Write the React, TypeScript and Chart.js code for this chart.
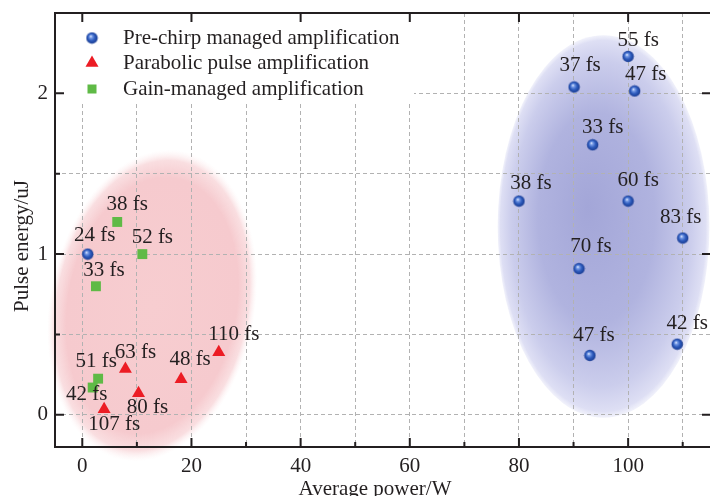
import React, { useEffect, useRef } from 'react';
import { Chart, registerables } from 'chart.js';

Chart.register(...registerables);

// ---------- data ----------
const seriesNames = [
  'Pre-chirp managed amplification',
  'Parabolic pulse amplification',
  'Gain-managed amplification',
];

const preChirpPower = [1, 100, 90.1, 101.2, 93.5, 80, 100, 110, 91, 93, 109];
const preChirpEnergy = [1.0, 2.23, 2.04, 2.015, 1.68, 1.33, 1.33, 1.1, 0.91, 0.37, 0.44];
const preChirpWidth = ['24 fs', '55 fs', '37 fs', '47 fs', '33 fs', '38 fs', '60 fs', '83 fs', '70 fs', '47 fs', '42 fs'];

const parabolicPower = [25, 7.9, 18.1, 10.3, 4.0];
const parabolicEnergy = [0.39, 0.285, 0.222, 0.135, 0.035];
const parabolicWidth = ['110 fs', '63 fs', '48 fs', '80 fs', '107 fs'];

const gainPower = [6.4, 11.0, 2.5, 2.9, 1.9];
const gainEnergy = [1.2, 1.0, 0.8, 0.225, 0.17];
const gainWidth = ['38 fs', '52 fs', '33 fs', '51 fs', '42 fs'];

// axis ranges / ticks
const xMin = -5;
const xMax = 115;
const xTickValues = [0, 10, 20, 30, 40, 50, 60, 70, 80, 90, 100, 110];
const xLabelStep = 20;
const yMin = -0.2;
const yMax = 2.5;
const yTickValues = [0, 0.5, 1, 1.5, 2];
const yLabelStep = 1;
const xTitle = 'Average power/W';
const yTitle = 'Pulse energy/uJ';

// shaded regions (data units): centre x, centre y, radius x, radius y
const pinkRegion = [12.8, 0.68, 18.8, 0.98];
const blueRegion = [95.5, 1.172, 19.4, 1.19];

// ---------- layout (label offsets in px, not data) ----------
const preChirpLabelOffsets = [
  [7, -19], [10, -16], [6, -21], [11, -16], [10, -17], [12, -18],
  [10, -21], [-2, -21], [12, -22], [4, -20], [10, -21],
];
const parabolicLabelOffsets = [[15, -18], [10, -17], [9, -20], [9, 14], [10, 15]];
const gainLabelOffsets = [[10, -17], [10, -17], [8, -16], [-2, -17], [-6, 7]];

const FONT = '"Liberation Serif", "Times New Roman", serif';
const TEXT = '#231f20';
const RED = '#ec1c24';
const GREEN = '#5fba46';

function makeBall(): HTMLCanvasElement {
  const c = document.createElement('canvas');
  c.width = 13;
  c.height = 13;
  const g = c.getContext('2d')!;
  const grad = g.createRadialGradient(5.2, 4.8, 0.2, 6.5, 6.5, 6.2);
  grad.addColorStop(0, '#f2f6ff');
  grad.addColorStop(0.18, '#7fa2ea');
  grad.addColorStop(0.55, '#2d5bbd');
  grad.addColorStop(1, '#17378a');
  g.fillStyle = grad;
  g.beginPath();
  g.arc(6.5, 6.5, 5.7, 0, Math.PI * 2);
  g.fill();
  return c;
}

const isMultiple = (v: number, step: number) => Math.abs(v / step - Math.round(v / step)) < 1e-6;

export default function App() {
  const ref = useRef<HTMLCanvasElement | null>(null);

  useEffect(() => {
    if (!ref.current) return;
    const ball = makeBall();

    const toPts = (xs: number[], ys: number[]) => xs.map((x, i) => ({ x, y: ys[i] }));

    const labelSets = [
      { texts: preChirpWidth, offs: preChirpLabelOffsets },
      { texts: parabolicWidth, offs: parabolicLabelOffsets },
      { texts: gainWidth, offs: gainLabelOffsets },
    ];

    const ellipsePlugin = {
      id: 'regions',
      beforeDraw(chart: any) {
        const { ctx, scales } = chart;
        const xs = scales.x;
        const ys = scales.y;
        const drawRegion = (r: number[], rot: number, stops: [number, string][], gx: number, gy: number) => {
          const px = xs.getPixelForValue(r[0]);
          const py = ys.getPixelForValue(r[1]);
          const rx = Math.abs(xs.getPixelForValue(r[0] + r[2]) - px);
          const ry = Math.abs(ys.getPixelForValue(r[1] + r[3]) - py);
          ctx.save();
          ctx.translate(px, py);
          ctx.rotate(rot);
          ctx.scale(rx, ry);
          const grad = ctx.createRadialGradient(gx, gy, 0, 0, 0, 1);
          stops.forEach(([o, c]) => grad.addColorStop(o, c));
          ctx.fillStyle = grad;
          ctx.beginPath();
          ctx.arc(0, 0, 1, 0, Math.PI * 2);
          ctx.fill();
          ctx.restore();
        };
        drawRegion(pinkRegion, 0.187, [
          [0, 'rgba(247,205,208,1)'],
          [0.82, 'rgba(246,202,206,1)'],
          [0.93, 'rgba(248,214,217,0.8)'],
          [1, 'rgba(253,240,241,0)'],
        ], 0, 0);
        drawRegion(blueRegion, 0, [
          [0, 'rgba(163,166,216,1)'],
          [0.55, 'rgba(176,179,223,1)'],
          [0.85, 'rgba(203,205,236,1)'],
          [0.97, 'rgba(222,223,244,1)'],
          [1, 'rgba(232,233,248,0.6)'],
        ], -0.15, -0.1);
      },
    };

    const framePlugin = {
      id: 'frame',
      beforeDatasetsDraw(chart: any) {
        const { ctx, chartArea, scales } = chart;
        const { left, right, top, bottom } = chartArea;
        const xs = scales.x;
        const ys = scales.y;

        // legend box
        ctx.save();
        ctx.fillStyle = '#ffffff';
        ctx.fillRect(left + 1, top + 1, 358, 89);
        const lx = left + 37;
        const rows = [top + 25, top + 50, top + 76];
        ctx.drawImage(ball, lx - 6.5, rows[0] - 6.5);
        const r = 7.5;
        ctx.fillStyle = RED;
        ctx.beginPath();
        ctx.moveTo(lx, rows[1] - r);
        ctx.lineTo(lx + r * Math.sin(Math.PI / 3), rows[1] + r / 2);
        ctx.lineTo(lx - r * Math.sin(Math.PI / 3), rows[1] + r / 2);
        ctx.closePath();
        ctx.fill();
        ctx.fillStyle = GREEN;
        ctx.fillRect(lx - 4.5, rows[2] - 4.5, 9, 9);
        ctx.fillStyle = TEXT;
        ctx.font = `21px ${FONT}`;
        ctx.textAlign = 'left';
        ctx.textBaseline = 'middle';
        seriesNames.forEach((n, i) => ctx.fillText(n, left + 68, rows[i]));

        // frame
        ctx.strokeStyle = TEXT;
        ctx.lineWidth = 2;
        ctx.beginPath();
        ctx.moveTo(right + 2, top);
        ctx.lineTo(left, top);
        ctx.lineTo(left, bottom);
        ctx.lineTo(right + 2, bottom);
        ctx.stroke();

        // ticks
        ctx.beginPath();
        xs.ticks.forEach((t: any) => {
          const px = xs.getPixelForValue(t.value);
          const major = isMultiple(t.value, xLabelStep);
          const len = major ? 9 : 5;
          ctx.moveTo(px, bottom);
          ctx.lineTo(px, bottom - len);
          if (major) {
            ctx.moveTo(px, top);
            ctx.lineTo(px, top + len);
          }
        });
        ys.ticks.forEach((t: any) => {
          const py = ys.getPixelForValue(t.value);
          const major = isMultiple(t.value, yLabelStep);
          const len = major ? 9 : 5;
          ctx.moveTo(left, py);
          ctx.lineTo(left + len, py);
          if (major) {
            ctx.moveTo(right, py);
            ctx.lineTo(right - 8, py);
          }
        });
        ctx.stroke();

        // tick labels
        ctx.fillStyle = TEXT;
        ctx.font = `21px ${FONT}`;
        ctx.textAlign = 'center';
        ctx.textBaseline = 'middle';
        xs.ticks.forEach((t: any) => {
          if (isMultiple(t.value, xLabelStep)) {
            ctx.fillText(String(t.value), xs.getPixelForValue(t.value), bottom + 19);
          }
        });
        ctx.textAlign = 'right';
        ys.ticks.forEach((t: any) => {
          if (isMultiple(t.value, yLabelStep)) {
            ctx.fillText(String(Math.round(t.value)), left - 7, ys.getPixelForValue(t.value));
          }
        });

        // titles
        ctx.textAlign = 'center';
        ctx.fillText(xTitle, 375, bottom + 42);
        ctx.save();
        ctx.translate(22, 246);
        ctx.rotate(-Math.PI / 2);
        ctx.fillText(yTitle, 0, 0);
        ctx.restore();
        ctx.restore();
      },
    };

    const labelPlugin = {
      id: 'pointLabels',
      afterDatasetsDraw(chart: any) {
        const { ctx } = chart;
        ctx.save();
        ctx.fillStyle = TEXT;
        ctx.font = `21px ${FONT}`;
        ctx.textAlign = 'center';
        ctx.textBaseline = 'middle';
        labelSets.forEach((set, di) => {
          const meta = chart.getDatasetMeta(di);
          meta.data.forEach((el: any, j: number) => {
            const [dx, dy] = set.offs[j];
            ctx.fillText(set.texts[j], el.x + dx, el.y + dy);
          });
        });
        ctx.restore();
      },
    };

    const gridCommon = { color: '#b2b2b2', lineWidth: 1, drawTicks: false };
    const borderCommon = { display: false, dash: [4, 3] };

    const chart = new Chart(ref.current, {
      type: 'scatter',
      data: {
        datasets: [
          {
            label: seriesNames[0],
            data: toPts(preChirpPower, preChirpEnergy),
            pointStyle: ball as any,
            pointRadius: 6,
          },
          {
            label: seriesNames[1],
            data: toPts(parabolicPower, parabolicEnergy),
            pointStyle: 'triangle',
            pointRadius: 7.5,
            backgroundColor: RED,
            borderColor: RED,
            borderWidth: 0,
          },
          {
            label: seriesNames[2],
            data: toPts(gainPower, gainEnergy),
            pointStyle: 'rect',
            pointRadius: 7,
            backgroundColor: GREEN,
            borderColor: GREEN,
            borderWidth: 0,
          },
        ],
      },
      options: {
        responsive: false,
        animation: false,
        devicePixelRatio: 1,
        layout: { autoPadding: false, padding: { top: 13, right: 0, left: 0, bottom: 0 } },
        plugins: { legend: { display: false }, tooltip: { enabled: false } },
        scales: {
          x: {
            type: 'linear',
            min: xMin,
            max: xMax,
            grid: gridCommon,
            border: borderCommon,
            ticks: { display: false },
            afterBuildTicks: (axis: any) => {
              axis.ticks = xTickValues.map((v) => ({ value: v }));
            },
            afterFit: (s: any) => {
              s.height = 49;
              s.paddingLeft = 0;
              s.paddingRight = 0;
            },
          },
          y: {
            type: 'linear',
            min: yMin,
            max: yMax,
            grid: gridCommon,
            border: borderCommon,
            ticks: { display: false },
            afterBuildTicks: (axis: any) => {
              axis.ticks = yTickValues.map((v) => ({ value: v }));
            },
            afterFit: (s: any) => {
              s.width = 55;
              s.paddingTop = 0;
              s.paddingBottom = 0;
            },
          },
        },
      } as any,
      plugins: [ellipsePlugin, framePlugin, labelPlugin],
    });

    return () => chart.destroy();
  }, []);

  return (
    <div style={{ position: 'absolute', left: 0, top: 0, width: 710, height: 496, overflow: 'hidden', background: '#fff' }}>
      <canvas ref={ref} width={710} height={496} style={{ display: 'block' }} />
    </div>
  );
}
